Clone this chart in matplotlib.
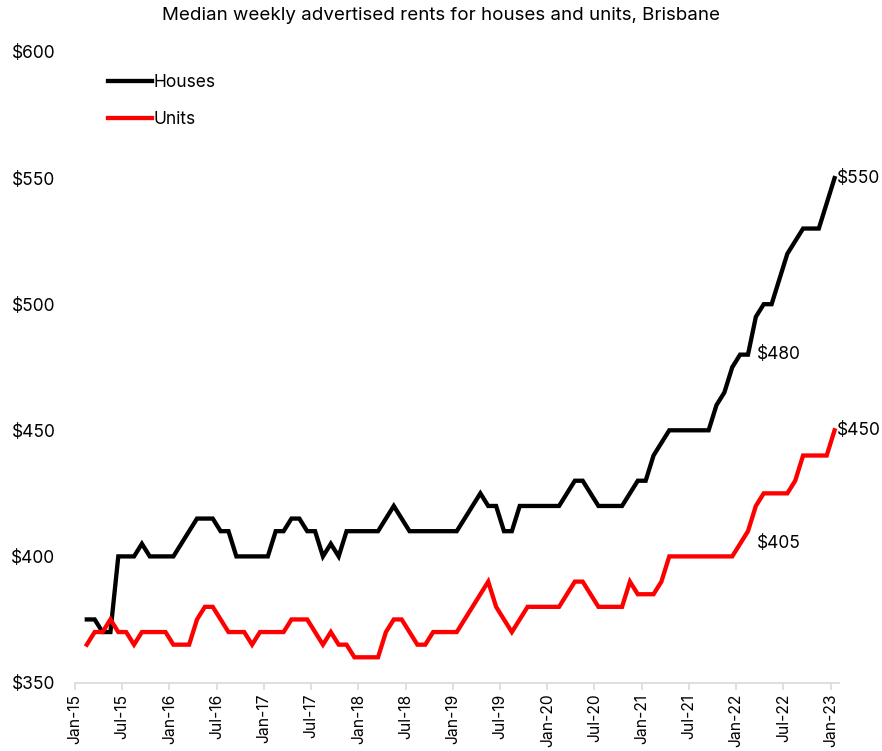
import matplotlib
matplotlib.use("Agg")
import matplotlib.pyplot as plt

plt.rcParams['font.family'] = ['Inter', 'DejaVu Sans']

# Monthly data, Feb-15 .. Jan-23
start_month = 1  # months after Jan-15
houses = [
    375, 375, 370, 370, 400, 400, 400, 405, 400, 400, 400,            # 2015 Feb-Dec
    400, 405, 410, 415, 415, 415, 410, 410, 400, 400, 400, 400,       # 2016
    400, 410, 410, 415, 415, 410, 410, 400, 405, 400, 410, 410,       # 2017
    410, 410, 410, 415, 420, 415, 410, 410, 410, 410, 410, 410,       # 2018
    410, 415, 420, 425, 420, 420, 410, 410, 420, 420, 420, 420,       # 2019
    420, 420, 425, 430, 430, 425, 420, 420, 420, 420, 425, 430,       # 2020
    430, 440, 445, 450, 450, 450, 450, 450, 450, 460, 465, 475,       # 2021
    480, 480, 495, 500, 500, 510, 520, 525, 530, 530, 530, 540,       # 2022
    550,                                                              # 2023 Jan
]
units = [
    365, 370, 370, 375, 370, 370, 365, 370, 370, 370, 370,            # 2015 Feb-Dec
    365, 365, 365, 375, 380, 380, 375, 370, 370, 370, 365, 370,       # 2016
    370, 370, 370, 375, 375, 375, 370, 365, 370, 365, 365, 360,       # 2017
    360, 360, 360, 370, 375, 375, 370, 365, 365, 370, 370, 370,       # 2018
    370, 375, 380, 385, 390, 380, 375, 370, 375, 380, 380, 380,       # 2019
    380, 380, 385, 390, 390, 385, 380, 380, 380, 380, 390, 385,       # 2020
    385, 385, 390, 400, 400, 400, 400, 400, 400, 400, 400, 400,       # 2021
    405, 410, 420, 425, 425, 425, 425, 430, 440, 440, 440, 440,       # 2022
    450,                                                              # 2023 Jan
]
tick_labels = ["Jan-15", "Jul-15", "Jan-16", "Jul-16", "Jan-17", "Jul-17",
               "Jan-18", "Jul-18", "Jan-19", "Jul-19", "Jan-20", "Jul-20",
               "Jan-21", "Jul-21", "Jan-22", "Jul-22", "Jan-23"]
y_ticks = [350, 400, 450, 500, 550, 600]
annotations = [("Houses", 84, "$480"), ("Units", 84, "$405"),
               ("Houses", 96, "$550"), ("Units", 96, "$450")]

x = [start_month + i + 0.5 for i in range(len(houses))]

fig = plt.figure(figsize=(8.82, 7.51), dpi=100)
ax = fig.add_axes([75/882, 1 - 682.5/751, 763.5/882, 630.5/751])

ax.plot(x, houses, color="#000000", lw=3.1, label="Houses", solid_joinstyle="miter")
ax.plot(x, units, color="#FF0000", lw=3.1, label="Units", solid_joinstyle="miter")

ax.set_xlim(0, 97)
ax.set_ylim(350, 600)
ax.set_xticks(range(0, 97, 6))
ax.set_xticklabels(tick_labels, rotation=90, fontsize=11.3)
ax.set_yticks(y_ticks)
ax.set_yticklabels([f"${v}" for v in y_ticks], fontsize=12.5)

for s in ["top", "right", "left"]:
    ax.spines[s].set_visible(False)
ax.spines["bottom"].set_color("#d9d9d9")
ax.spines["bottom"].set_linewidth(1.2)
ax.tick_params(axis="y", length=0, pad=14)
ax.tick_params(axis="x", length=5, color="#d9d9d9", width=1.2, pad=3)

series = {"Houses": houses, "Units": units}
for name, m, txt in annotations:
    idx = m - start_month
    xv = start_month + idx + 0.5
    yv = series[name][idx]
    off = 1.5 if m == 96 else 12
    ax.annotate(txt, xy=(xv, yv), xytext=(off, 0), textcoords="offset points",
                va="center", ha="left", fontsize=12.5, annotation_clip=False)

fig.text(0.5, 1 - 16/751, "Median weekly advertised rents for houses and units, Brisbane",
         ha="center", va="center", fontsize=13.5)

leg = fig.legend(loc="upper left", bbox_to_anchor=(108/882, 1 - 74/751),
                 frameon=False, fontsize=12.5, handlelength=2.55, handletextpad=0.05,
                 labelspacing=1.15, borderpad=0, borderaxespad=0)

fig.savefig("out.png", dpi=100)
